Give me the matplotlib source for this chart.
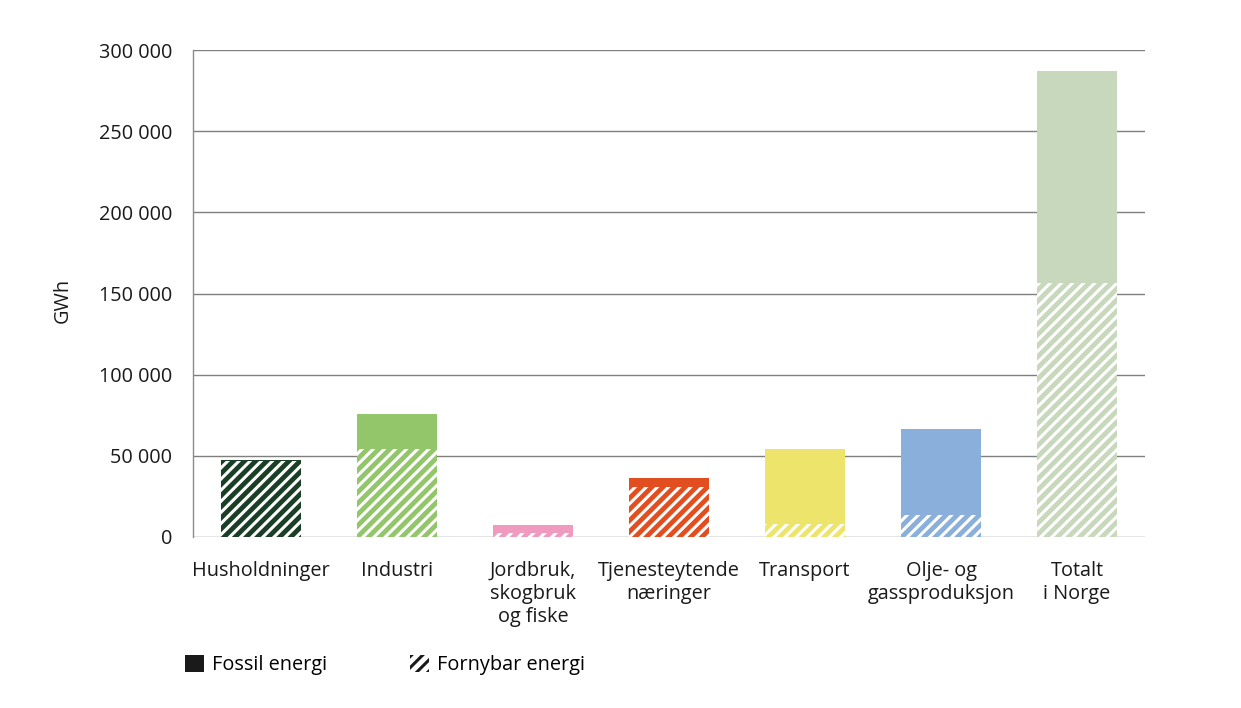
import matplotlib
matplotlib.use("Agg")
import matplotlib.pyplot as plt
from matplotlib.patches import Patch
from matplotlib.ticker import FuncFormatter

plt.rcParams['font.family'] = ['Open Sans', 'DejaVu Sans']
plt.rcParams['hatch.linewidth'] = 2.2

categories = ["Husholdninger", "Industri", "Jordbruk,\nskogbruk\nog fiske",
              "Tjenesteytende\nnæringer", "Transport", "Olje- og\ngassproduksjon",
              "Totalt\ni Norge"]
fornybar = [47000, 54000, 2500, 31000, 8000, 13500, 156500]
fossil = [500, 21800, 4900, 5300, 46200, 53000, 130500]
colors = ["#1b3f26", "#93c56b", "#f09ac0", "#e24e1f", "#ede56b", "#8aafdb", "#c8d8bc"]
yticks = [0, 50000, 100000, 150000, 200000, 250000, 300000]

FS = 14.3

fig = plt.figure(figsize=(12.41, 7.08), dpi=100)
ax = fig.add_axes([193/1241, 1-537/708, (1145-193)/1241, (537-50)/708])

x = list(range(len(categories)))
width = 0.585
for i in x:
    ax.bar(i, fornybar[i], width=width, facecolor=colors[i], edgecolor='white',
           hatch='///', linewidth=0, zorder=3)
    ax.bar(i, fossil[i], width=width, bottom=fornybar[i], color=colors[i],
           linewidth=0, zorder=3)

ax.set_xlim(-0.5, len(categories) - 0.5)
ax.set_ylim(0, 300000)
ax.set_yticks(yticks)
ax.yaxis.set_major_formatter(FuncFormatter(lambda v, p: f"{int(v):,}".replace(",", " ")))
ax.set_xticks(x)
ax.set_xticklabels(categories, linespacing=1.22)
ax.tick_params(axis='both', length=0, labelsize=FS, colors='#1a1a1a')
ax.tick_params(axis='x', pad=17)
ax.tick_params(axis='y', pad=15)
ax.yaxis.grid(True, color='#7f7f7f', linewidth=1.0, zorder=0)
for s in ['top', 'right', 'bottom']:
    ax.spines[s].set_visible(False)
ax.spines['left'].set_color('#8c8c8c')
ax.spines['left'].set_linewidth(1.0)

fig.text(63/1241, 1-300/708, "GWh", rotation=90, ha='center', va='center',
         fontsize=FS, color='#1a1a1a')

handles = [Patch(facecolor='#1a1a1a', edgecolor='#1a1a1a', linewidth=0),
           Patch(facecolor='white', edgecolor='#1a1a1a', hatch='///', linewidth=0)]
fig.legend(handles, ["Fossil energi", "Fornybar energi"], ncol=2,
           loc='center left', bbox_to_anchor=(177/1241, 1-665/708),
           frameon=False, fontsize=FS, handlelength=0.95, handleheight=0.95,
           handletextpad=0.4, columnspacing=4.2, borderaxespad=0)

fig.savefig("out.png", dpi=100)
